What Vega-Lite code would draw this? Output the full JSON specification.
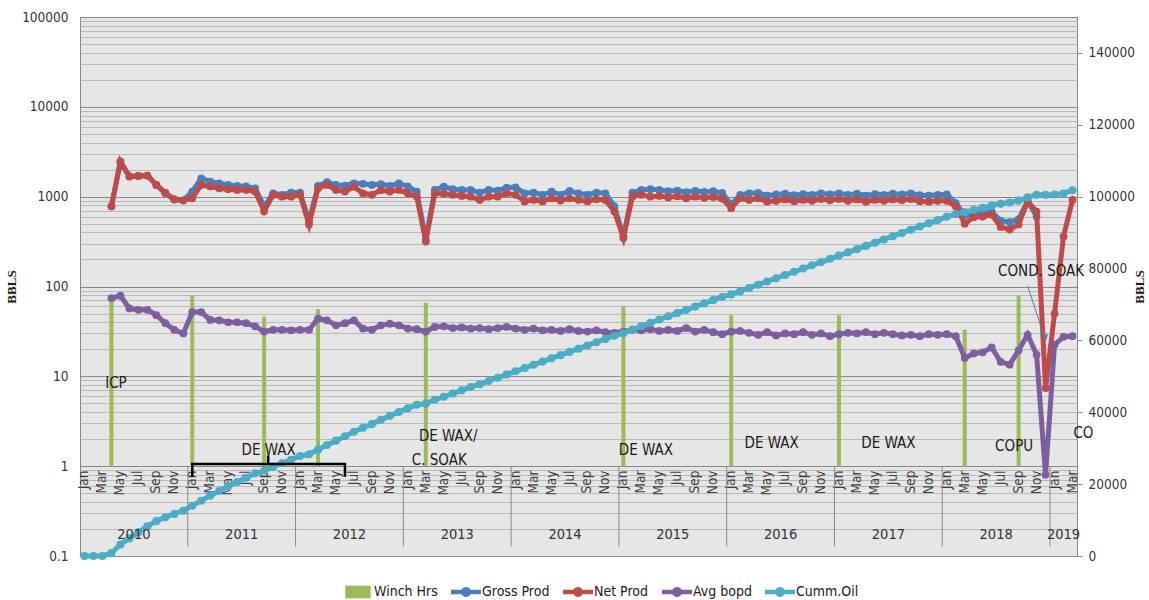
{
"$schema": "https://vega.github.io/schema/vega-lite/v6.json",
"width": 997, "height": 539,
"autosize": {"type": "none"},
"padding": {"left": 80, "top": 17, "right": 72, "bottom": 44},
"background": "#ffffff",
"config": {
  "font": "Liberation Sans Narrow, Arial Narrow, DejaVu Sans Condensed, Liberation Sans, sans-serif",
  "view": {"fill": "#e6e6e6", "stroke": "#868686", "strokeWidth": 1},
  "axis": {"labelFont": "Liberation Sans Narrow, Arial Narrow, DejaVu Sans Condensed, Liberation Sans, sans-serif", "labelColor": "#333333", "titleFont": "Liberation Serif, DejaVu Serif, serif", "titleFontWeight": "bold", "titleColor": "#1a1a1a", "titleFontSize": 13},
  "legend": {"labelFont": "Liberation Sans Narrow, Arial Narrow, DejaVu Sans Condensed, Liberation Sans, sans-serif"},
  "text": {"font": "Liberation Sans Narrow, Arial Narrow, DejaVu Sans Condensed, Liberation Sans, sans-serif"}
},
"datasets": {
  "winch": [
    {"m":"2010-04","hrs":70},{"m":"2011-01","hrs":80},{"m":"2011-09","hrs":46},{"m":"2012-03","hrs":56},
    {"m":"2013-03","hrs":66},{"m":"2015-01","hrs":60},{"m":"2016-01","hrs":48},{"m":"2017-01","hrs":48},
    {"m":"2018-03","hrs":33},{"m":"2018-09","hrs":80}
  ],
  "d": [
    {"m":"2010-01","c":0},{"m":"2010-02","c":0},{"m":"2010-03","c":0},
    {"m":"2010-04","g":780,"n":780,"a":74,"c":800},
    {"m":"2010-05","g":2450,"n":2450,"a":79,"c":3200},
    {"m":"2010-06","g":1680,"n":1680,"a":57,"c":4900},
    {"m":"2010-07","g":1700,"n":1700,"a":55,"c":6600},
    {"m":"2010-08","g":1720,"n":1720,"a":55,"c":8300},
    {"m":"2010-09","g":1350,"n":1350,"a":48,"c":9700},
    {"m":"2010-10","g":1100,"n":1100,"a":39,"c":10800},
    {"m":"2010-11","g":930,"n":930,"a":33,"c":11700},
    {"m":"2010-12","g":910,"n":910,"a":30,"c":12600},
    {"m":"2011-01","g":1140,"n":960,"a":52,"c":14000},
    {"m":"2011-02","g":1600,"n":1350,"a":52,"c":15400},
    {"m":"2011-03","g":1470,"n":1300,"a":42.5,"c":16800},
    {"m":"2011-04","g":1410,"n":1240,"a":42,"c":18100},
    {"m":"2011-05","g":1350,"n":1210,"a":40,"c":19400},
    {"m":"2011-06","g":1320,"n":1190,"a":40,"c":20600},
    {"m":"2011-07","g":1300,"n":1190,"a":39,"c":21800},
    {"m":"2011-08","g":1240,"n":1140,"a":36,"c":23000},
    {"m":"2011-09","g":780,"n":690,"a":31.5,"c":23700},
    {"m":"2011-10","g":1090,"n":1050,"a":33,"c":24800},
    {"m":"2011-11","g":1050,"n":1000,"a":33,"c":25800},
    {"m":"2011-12","g":1110,"n":1000,"a":32.5,"c":26800},
    {"m":"2012-01","g":1110,"n":1050,"a":33,"c":27800},
    {"m":"2012-02","g":530,"n":490,"a":33,"c":28300},
    {"m":"2012-03","g":1320,"n":1240,"a":44,"c":29600},
    {"m":"2012-04","g":1450,"n":1350,"a":42,"c":30900},
    {"m":"2012-05","g":1350,"n":1190,"a":37,"c":32100},
    {"m":"2012-06","g":1330,"n":1140,"a":39,"c":33300},
    {"m":"2012-07","g":1410,"n":1290,"a":42,"c":34600},
    {"m":"2012-08","g":1390,"n":1090,"a":34,"c":35700},
    {"m":"2012-09","g":1350,"n":1050,"a":33,"c":36700},
    {"m":"2012-10","g":1380,"n":1180,"a":37,"c":37900},
    {"m":"2012-11","g":1320,"n":1140,"a":38.5,"c":39000},
    {"m":"2012-12","g":1410,"n":1190,"a":37,"c":40100},
    {"m":"2013-01","g":1300,"n":1090,"a":34,"c":41100},
    {"m":"2013-02","g":1140,"n":1000,"a":33.5,"c":42100},
    {"m":"2013-03","g":330,"n":316,"a":31.5,"c":42400},
    {"m":"2013-04","g":1190,"n":1090,"a":35.5,"c":43500},
    {"m":"2013-05","g":1290,"n":1080,"a":36,"c":44300},
    {"m":"2013-06","g":1210,"n":1050,"a":34.5,"c":45200},
    {"m":"2013-07","g":1190,"n":1020,"a":35,"c":46100},
    {"m":"2013-08","g":1190,"n":1000,"a":34,"c":47000},
    {"m":"2013-09","g":1110,"n":920,"a":34.5,"c":47800},
    {"m":"2013-10","g":1190,"n":1000,"a":33.5,"c":48700},
    {"m":"2013-11","g":1170,"n":1000,"a":34.5,"c":49600},
    {"m":"2013-12","g":1260,"n":1090,"a":35.5,"c":50500},
    {"m":"2014-01","g":1270,"n":1050,"a":34,"c":51400},
    {"m":"2014-02","g":1090,"n":885,"a":33,"c":52300},
    {"m":"2014-03","g":1110,"n":920,"a":34,"c":53200},
    {"m":"2014-04","g":1050,"n":885,"a":32.5,"c":54100},
    {"m":"2014-05","g":1140,"n":960,"a":33,"c":55000},
    {"m":"2014-06","g":1050,"n":905,"a":32,"c":55900},
    {"m":"2014-07","g":1160,"n":960,"a":33.5,"c":56800},
    {"m":"2014-08","g":1090,"n":920,"a":32,"c":57700},
    {"m":"2014-09","g":1050,"n":885,"a":31.5,"c":58600},
    {"m":"2014-10","g":1110,"n":935,"a":32.5,"c":59500},
    {"m":"2014-11","g":1090,"n":920,"a":31,"c":60400},
    {"m":"2014-12","g":780,"n":683,"a":30.5,"c":61300},
    {"m":"2015-01","g":360,"n":347,"a":31.5,"c":62000},
    {"m":"2015-02","g":1110,"n":1000,"a":33,"c":63000},
    {"m":"2015-03","g":1190,"n":1050,"a":32.5,"c":64000},
    {"m":"2015-04","g":1210,"n":1000,"a":33.5,"c":64900},
    {"m":"2015-05","g":1190,"n":1020,"a":32,"c":65800},
    {"m":"2015-06","g":1150,"n":980,"a":33,"c":66700},
    {"m":"2015-07","g":1170,"n":1010,"a":32,"c":67600},
    {"m":"2015-08","g":1120,"n":960,"a":34.5,"c":68500},
    {"m":"2015-09","g":1160,"n":1000,"a":31.5,"c":69400},
    {"m":"2015-10","g":1130,"n":970,"a":33,"c":70300},
    {"m":"2015-11","g":1150,"n":990,"a":31,"c":71200},
    {"m":"2015-12","g":1100,"n":950,"a":29.5,"c":72100},
    {"m":"2016-01","g":820,"n":745,"a":31.5,"c":72800},
    {"m":"2016-02","g":1050,"n":960,"a":32,"c":73700},
    {"m":"2016-03","g":1090,"n":920,"a":30.5,"c":74600},
    {"m":"2016-04","g":1100,"n":960,"a":29,"c":75500},
    {"m":"2016-05","g":1030,"n":880,"a":31,"c":76400},
    {"m":"2016-06","g":1060,"n":900,"a":28.5,"c":77300},
    {"m":"2016-07","g":1080,"n":930,"a":30,"c":78200},
    {"m":"2016-08","g":1040,"n":890,"a":29.5,"c":79100},
    {"m":"2016-09","g":1070,"n":920,"a":31,"c":80000},
    {"m":"2016-10","g":1050,"n":900,"a":29,"c":80900},
    {"m":"2016-11","g":1090,"n":940,"a":30,"c":81800},
    {"m":"2016-12","g":1060,"n":910,"a":28,"c":82700},
    {"m":"2017-01","g":1090,"n":940,"a":29.5,"c":83600},
    {"m":"2017-02","g":1050,"n":900,"a":30.5,"c":84500},
    {"m":"2017-03","g":1080,"n":930,"a":30,"c":85400},
    {"m":"2017-04","g":1030,"n":880,"a":31,"c":86300},
    {"m":"2017-05","g":1070,"n":920,"a":29.5,"c":87200},
    {"m":"2017-06","g":1050,"n":900,"a":30.5,"c":88100},
    {"m":"2017-07","g":1080,"n":930,"a":29.5,"c":89000},
    {"m":"2017-08","g":1060,"n":910,"a":28.5,"c":89900},
    {"m":"2017-09","g":1090,"n":940,"a":29,"c":90800},
    {"m":"2017-10","g":1040,"n":890,"a":28,"c":91700},
    {"m":"2017-11","g":1030,"n":880,"a":29.5,"c":92600},
    {"m":"2017-12","g":1050,"n":900,"a":29,"c":93500},
    {"m":"2018-01","g":1060,"n":900,"a":29.5,"c":94400},
    {"m":"2018-02","g":850,"n":780,"a":28,"c":95200},
    {"m":"2018-03","g":620,"n":500,"a":16,"c":95700},
    {"m":"2018-04","g":640,"n":590,"a":18,"c":96300},
    {"m":"2018-05","g":660,"n":600,"a":18.5,"c":96900},
    {"m":"2018-06","g":680,"n":630,"a":21,"c":97500},
    {"m":"2018-07","g":540,"n":460,"a":14.5,"c":98000},
    {"m":"2018-08","g":520,"n":430,"a":13.5,"c":98400},
    {"m":"2018-09","g":560,"n":490,"a":19.5,"c":98900},
    {"m":"2018-10","g":900,"n":885,"a":29,"c":99800},
    {"m":"2018-11","g":600,"n":683,"a":17.5,"c":100500},
    {"m":"2018-12","n":7.4,"a":0.8,"c":100500},
    {"m":"2019-01","n":50,"a":22.5,"c":100600},
    {"m":"2019-02","n":360,"a":27.5,"c":100900},
    {"m":"2019-03","n":920,"a":28,"c":101800}
  ],
  "yrs": [{"m":"2011-01"},{"m":"2012-01"},{"m":"2013-01"},{"m":"2014-01"},{"m":"2015-01"},{"m":"2016-01"},{"m":"2017-01"},{"m":"2018-01"},{"m":"2019-01"}],
  "ylab": [{"m":"2010-07","t":"2010"},{"m":"2011-07","t":"2011"},{"m":"2012-07","t":"2012"},{"m":"2013-07","t":"2013"},{"m":"2014-07","t":"2014"},{"m":"2015-07","t":"2015"},{"m":"2016-07","t":"2016"},{"m":"2017-07","t":"2017"},{"m":"2018-07","t":"2018"}],
  "ylab19": [{"m":"2019-02","t":"2019"}],
  "bracket": [{"m":"2011-01","v":0.76,"k":1},{"m":"2011-01","v":1.06,"k":2},{"m":"2012-06","v":1.06,"k":3},{"m":"2012-06","v":0.76,"k":4}],
  "btick": [{"m":"2011-09","v1":1.06,"v2":1.32}],
  "arrow": [{"m":"2018-10","v":102,"k":1},{"m":"2018-12","v":25,"k":2}],
  "arrowhead": [{"m":"2018-12","v":27}],
  "notes": [
    {"m":"2010-05","v":8.4,"t":"ICP"},
    {"m":"2011-10","v":1.51,"t":"DE WAX"},
    {"m":"2013-06","v":2.17,"t":"DE WAX/"},
    {"m":"2013-05","v":1.17,"t":"C. SOAK"},
    {"m":"2015-04","v":1.51,"t":"DE WAX"},
    {"m":"2016-06","v":1.81,"t":"DE WAX"},
    {"m":"2017-07","v":1.81,"t":"DE WAX"},
    {"m":"2018-09","v":1.68,"t":"COPU"},
    {"m":"2018-12","v":149,"t":"COND. SOAK"}
  ],
  "notes2": [{"m":"2019-03","v":2.34,"t":"CO"}]
},
"layer": [
  {
    "layer": [
      {
        "data": {"name": "winch"},
        "mark": {"type": "bar", "size": 4},
        "encoding": {
          "x": {"field": "m", "type": "ordinal", "title": null, "scale": {"type": "band", "paddingInner": 0, "paddingOuter": 0},
                "axis": {"orient": "bottom", "offset": -90, "domain": false, "ticks": false, "grid": false, "labelAngle": 270, "labelAlign": "right", "labelBaseline": "middle", "labelPadding": 4, "labelFontSize": 13.5, "labelColor": "#404040", "labelOverlap": false, "labelBound": false, "labelFlush": false,
                         "labelExpr": "(toNumber(slice(datum.value,5)) % 2 == 1) ? ['Jan','Feb','Mar','Apr','May','Jun','Jul','Aug','Sep','Oct','Nov','Dec'][toNumber(slice(datum.value,5))-1] : ''"}},
          "y": {"field": "hrs", "type": "quantitative", "title": "BBLS",
                "scale": {"type": "log", "domain": [0.1, 100000], "nice": false},
                "axis": {"values": [0.1,0.2,0.3,0.4,0.5,0.6,0.7,0.8,0.9,1,2,3,4,5,6,7,8,9,10,20,30,40,50,60,70,80,90,100,200,300,400,500,600,700,800,900,1000,2000,3000,4000,5000,6000,7000,8000,9000,10000,20000,30000,40000,50000,60000,70000,80000,90000,100000],
                         "format": "~g", "labelExpr": "indexof([0.1,1,10,100,1000,10000,100000], datum.value) >= 0 ? datum.label : ''",
                         "ticks": false, "domain": false, "labelPadding": 12, "labelFontSize": 13.5, "titlePadding": 3,
                         "gridColor": {"condition": {"test": "indexof([0.1,1,10,100,1000,10000,100000], datum.value) >= 0", "value": "#888888"}, "value": "#b8b8b8"},
                         "gridWidth": 1}},
          "y2": {"datum": 1},
          "color": {"datum": "Winch Hrs",
                    "scale": {"domain": ["Winch Hrs", "Gross Prod", "Net Prod", "Avg bopd", "Cumm.Oil"], "range": ["#9bbb59", "#4a7ebb", "#be4b48", "#7d5fa0", "#4bacc6"]},
                    "legend": {"title": null, "orient": "none", "legendX": 263, "legendY": 560, "direction": "horizontal", "symbolSize": 900, "symbolStrokeWidth": 0, "labelFontSize": 14, "labelColor": "#1a1a1a", "labelOffset": 1, "columnPadding": 13,
                               "encode": {"symbols": {"update": {
                                 "shape": {"signal": "datum.value === 'Winch Hrs' ? 'M-0.85,-0.42H0.85V0.42H-0.85Z' : 'M-1,-0.15H-0.3A0.34,0.34 0 0 1 0.3,-0.15H1V0.15H0.3A0.34,0.34 0 0 1 -0.3,0.15H-1Z'"},
                                 "fill": {"scale": "color", "field": "value"},
                                 "strokeWidth": {"value": 0}}}}}}
        }
      },
      {
        "data": {"name": "d"},
        "mark": {"type": "line", "strokeWidth": 5, "point": {"filled": true, "size": 60}},
        "encoding": {
          "x": {"field": "m", "type": "ordinal", "scale": {"type": "band", "paddingInner": 0, "paddingOuter": 0}},
          "y": {"field": "g", "type": "quantitative", "title": "BBLS"},
          "color": {"datum": "Gross Prod"}
        }
      },
      {
        "data": {"name": "d"},
        "mark": {"type": "line", "strokeWidth": 5, "point": {"filled": true, "size": 60}},
        "encoding": {
          "x": {"field": "m", "type": "ordinal", "scale": {"type": "band", "paddingInner": 0, "paddingOuter": 0}},
          "y": {"field": "n", "type": "quantitative", "title": "BBLS"},
          "color": {"datum": "Net Prod"}
        }
      },
      {
        "data": {"name": "d"},
        "mark": {"type": "line", "strokeWidth": 5, "point": {"filled": true, "size": 60}},
        "encoding": {
          "x": {"field": "m", "type": "ordinal", "scale": {"type": "band", "paddingInner": 0, "paddingOuter": 0}},
          "y": {"field": "a", "type": "quantitative", "title": "BBLS"},
          "color": {"datum": "Avg bopd"}
        }
      }
    ]
  },
  {
    "data": {"name": "d"},
    "mark": {"type": "line", "strokeWidth": 5, "point": {"filled": true, "size": 65}},
    "encoding": {
      "x": {"field": "m", "type": "ordinal", "scale": {"type": "band", "paddingInner": 0, "paddingOuter": 0}},
      "y": {"field": "c", "type": "quantitative", "title": "BBLS",
            "scale": {"domain": [0, 150000], "nice": false},
            "axis": {"orient": "right", "values": [0,20000,40000,60000,80000,100000,120000,140000], "format": "d", "grid": false, "domain": false, "ticks": true, "tickSize": 5, "tickColor": "#868686", "labelPadding": 6, "labelFontSize": 13.5, "titleAngle": 270, "titlePadding": 12}},
      "color": {"datum": "Cumm.Oil"}
    }
  },
  {
    "layer": [
      {
        "data": {"name": "yrs"},
        "mark": {"type": "rule", "color": "#8a8a8a", "strokeWidth": 1},
        "encoding": {
          "x": {"field": "m", "type": "ordinal", "bandPosition": 0, "scale": {"type": "band", "paddingInner": 0, "paddingOuter": 0}},
          "y": {"datum": 1, "type": "quantitative", "scale": {"type": "log", "domain": [0.1, 100000], "nice": false}, "axis": null},
          "y2": {"datum": 0.127}
        }
      },
      {
        "data": {"name": "ylab"},
        "mark": {"type": "text", "fontSize": 14.5, "color": "#333333", "align": "center", "baseline": "middle"},
        "encoding": {
          "x": {"field": "m", "type": "ordinal", "bandPosition": 0, "scale": {"type": "band", "paddingInner": 0, "paddingOuter": 0}},
          "y": {"datum": 0.171, "type": "quantitative", "scale": {"type": "log", "domain": [0.1, 100000], "nice": false}, "axis": null},
          "text": {"field": "t"}
        }
      },
      {
        "data": {"name": "ylab19"},
        "mark": {"type": "text", "fontSize": 14.5, "color": "#333333", "align": "center", "baseline": "middle"},
        "encoding": {
          "x": {"field": "m", "type": "ordinal", "bandPosition": 0.5, "scale": {"type": "band", "paddingInner": 0, "paddingOuter": 0}},
          "y": {"datum": 0.171, "type": "quantitative", "scale": {"type": "log", "domain": [0.1, 100000], "nice": false}, "axis": null},
          "text": {"field": "t"}
        }
      },
      {
        "data": {"name": "bracket"},
        "mark": {"type": "line", "color": "#000000", "strokeWidth": 2.5},
        "encoding": {
          "x": {"field": "m", "type": "ordinal", "scale": {"type": "band", "paddingInner": 0, "paddingOuter": 0}},
          "y": {"field": "v", "type": "quantitative", "scale": {"type": "log", "domain": [0.1, 100000], "nice": false}, "axis": null},
          "order": {"field": "k"}
        }
      },
      {
        "data": {"name": "btick"},
        "mark": {"type": "rule", "color": "#000000", "strokeWidth": 2.5},
        "encoding": {
          "x": {"field": "m", "type": "ordinal", "bandPosition": 0.95, "scale": {"type": "band", "paddingInner": 0, "paddingOuter": 0}},
          "y": {"field": "v1", "type": "quantitative", "scale": {"type": "log", "domain": [0.1, 100000], "nice": false}, "axis": null},
          "y2": {"field": "v2"}
        }
      },
      {
        "data": {"name": "arrow"},
        "mark": {"type": "line", "color": "#4a7ebb", "strokeWidth": 1},
        "encoding": {
          "x": {"field": "m", "type": "ordinal", "scale": {"type": "band", "paddingInner": 0, "paddingOuter": 0}},
          "y": {"field": "v", "type": "quantitative", "scale": {"type": "log", "domain": [0.1, 100000], "nice": false}, "axis": null},
          "order": {"field": "k"}
        }
      },
      {
        "data": {"name": "arrowhead"},
        "mark": {"type": "point", "shape": "triangle-down", "filled": true, "color": "#4a7ebb", "size": 45, "angle": -18, "opacity": 1},
        "encoding": {
          "x": {"field": "m", "type": "ordinal", "scale": {"type": "band", "paddingInner": 0, "paddingOuter": 0}},
          "y": {"field": "v", "type": "quantitative", "scale": {"type": "log", "domain": [0.1, 100000], "nice": false}, "axis": null}
        }
      },
      {
        "data": {"name": "notes"},
        "mark": {"type": "text", "fontSize": 15, "color": "#1a1a1a", "align": "center", "baseline": "middle"},
        "encoding": {
          "x": {"field": "m", "type": "ordinal", "bandPosition": 0, "scale": {"type": "band", "paddingInner": 0, "paddingOuter": 0}},
          "y": {"field": "v", "type": "quantitative", "scale": {"type": "log", "domain": [0.1, 100000], "nice": false}, "axis": null},
          "text": {"field": "t"}
        }
      },
      {
        "data": {"name": "notes2"},
        "mark": {"type": "text", "fontSize": 15, "color": "#1a1a1a", "align": "left", "baseline": "middle"},
        "encoding": {
          "x": {"field": "m", "type": "ordinal", "bandPosition": 0.6, "scale": {"type": "band", "paddingInner": 0, "paddingOuter": 0}},
          "y": {"field": "v", "type": "quantitative", "scale": {"type": "log", "domain": [0.1, 100000], "nice": false}, "axis": null},
          "text": {"field": "t"}
        }
      }
    ]
  }
],
"resolve": {"scale": {"y": "independent"}}
}
